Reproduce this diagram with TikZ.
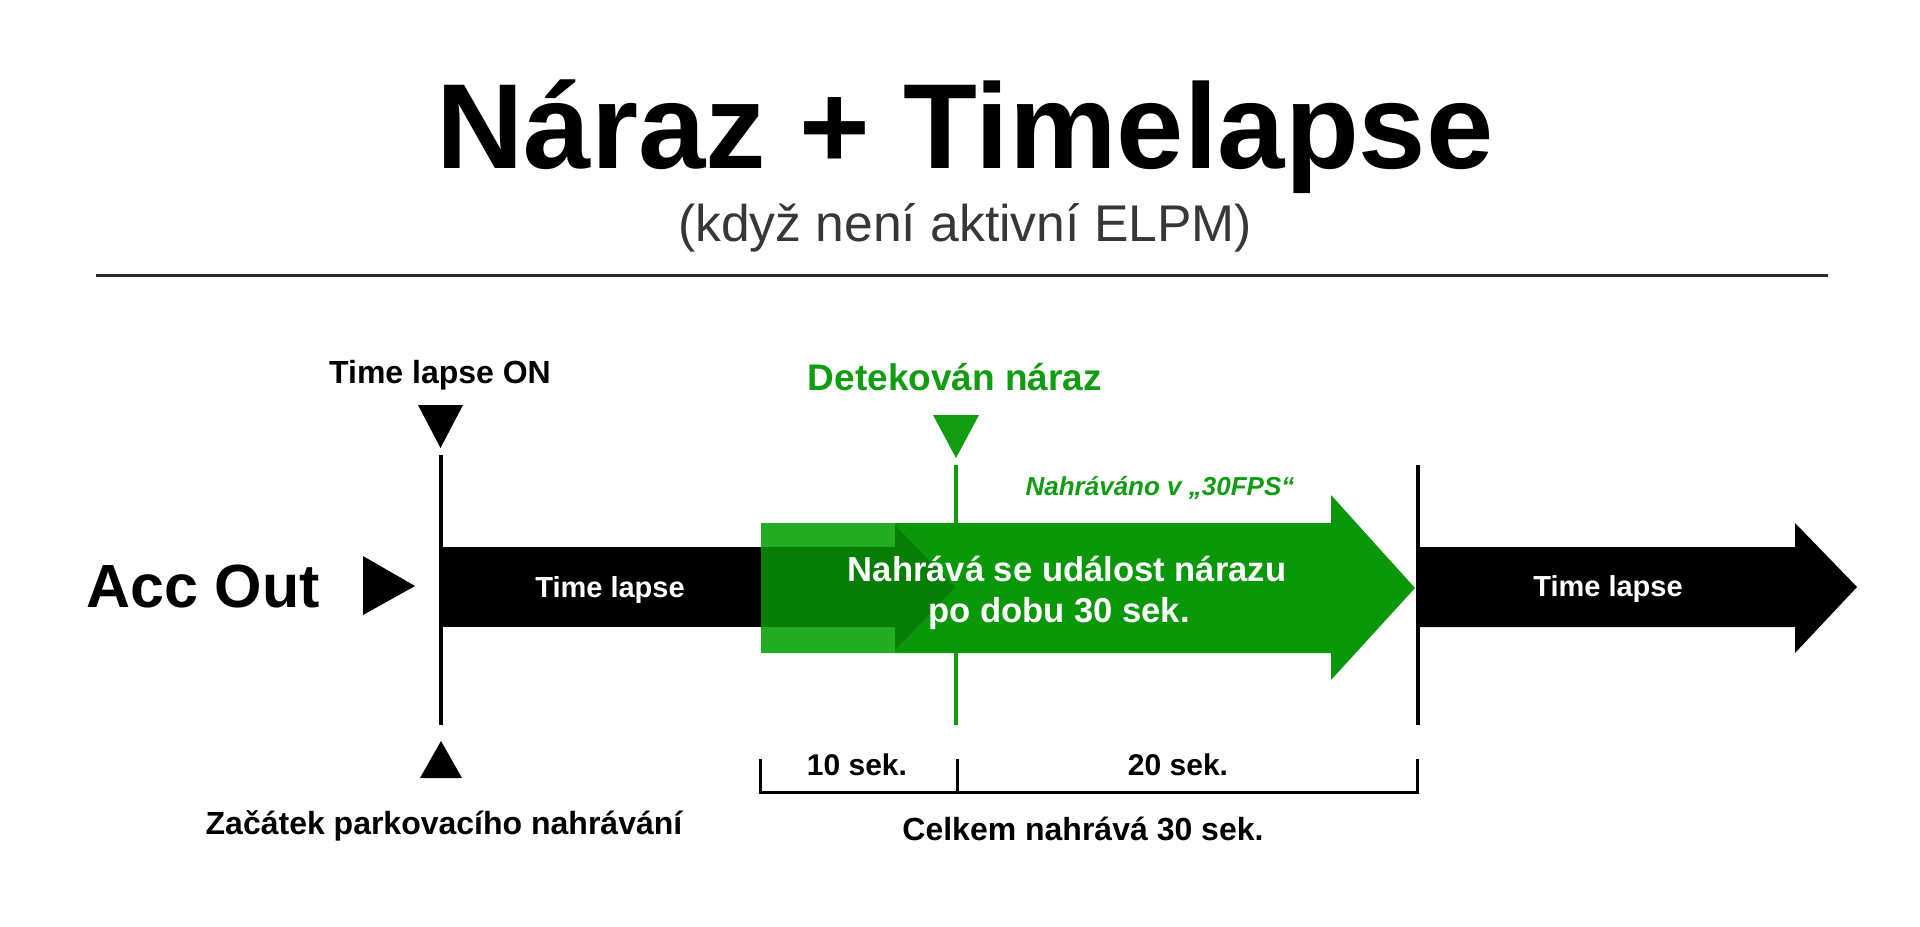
\documentclass[tikz,border=0pt]{standalone}
\usepackage{fontspec}
\setmainfont{Liberation Sans}
\definecolor{mgreen}{RGB}{10,152,10}
\definecolor{lgreen}{RGB}{34,172,34}
\definecolor{dgreen}{RGB}{8,126,8}
\definecolor{tgreen}{RGB}{18,156,18}
\definecolor{subgray}{RGB}{55,55,55}
\definecolor{rulegray}{RGB}{40,40,40}
\tikzset{
  txt/.style={inner sep=0pt, anchor=base, font=\bfseries},
  fs/.style={font=\bfseries\fontsize{#1}{#1}\selectfont},
  vline/.style={line width=2pt, black},
  gline/.style={line width=1.6pt, tgreen},
  brack/.style={line width=1.5pt, black, line join=miter},
}
\begin{document}
\begin{tikzpicture}[x=0.5pt,y=-0.5pt]
\useasboundingbox[fill=white] (0,0) rectangle (1920,926);

% title
\node[txt, fs=60.5] (title) at (965,168) {Náraz + Timelapse};
\node[txt, text=subgray, font=\fontsize{25.8}{30}\selectfont] (sub) at (965,241) {(když není aktivní ELPM)};
\coordinate (rl) at (96,275);
\coordinate (rr) at (1828,275);
\draw[line width=1.5pt, rulegray] (rl) -- (rr);

% vertical lines
\coordinate (l1t) at (441,455); \coordinate (l1b) at (441,725);
\coordinate (l2t) at (956,465); \coordinate (l2b) at (956,725);
\coordinate (l3t) at (1418,465); \coordinate (l3b) at (1418,725);
\draw[vline] (l1t) -- (l1b);
\draw[vline] (l3t) -- (l3b);
\draw[gline] (l2t) -- (l2b);

% markers
\fill[black] (418,405) -- (463,405) -- (440.5,448) -- cycle;
\fill[black] (420,778) -- (462,778) -- (441,741) -- cycle;
\fill[tgreen] (933,415) -- (979,415) -- (956,458) -- cycle;
\fill[black] (363,556) -- (363,615) -- (415,586) -- cycle;

% labels
\node[txt, fs=16] (tlon) at (440,383) {Time lapse ON};
\node[txt, fs=16] (zac) at (444,834) {Začátek parkovacího nahrávání};
\node[txt, fs=18.5, text=tgreen] (det) at (955,390) {Detekován náraz};
\node[txt, text=tgreen, font=\bfseries\itshape\fontsize{13}{13}\selectfont] (fps) at (1160,495) {Nahráváno v „30FPS“};
\node[txt, fs=30.5] (acc) at (203,607) {Acc Out};

% black bars
\fill[black] (443,547) rectangle (762,627);
\fill[black] (1420,547) -- (1795,547) -- (1795,523) -- (1857,587) -- (1795,653) -- (1795,627) -- (1420,627) -- cycle;

% green arrow
\fill[mgreen] (761,523) -- (1331,523) -- (1331,495) -- (1415,588) -- (1331,680) -- (1331,653) -- (761,653) -- cycle;
\fill[lgreen] (761,523) rectangle (895,653);
\fill[dgreen] (761,547) -- (895,547) -- (895,525) -- (955,587) -- (895,650) -- (895,627) -- (761,627) -- cycle;

% bar texts
\node[txt, fs=14.5, text=white] (tl1) at (610,597) {Time lapse};
\node[txt, fs=14.5, text=white] (tl2) at (1608,596) {Time lapse};
\node[txt, fs=17.3, text=white] (ev1) at (1067,581) {Nahrává se událost nárazu};
\node[txt, fs=17.3, text=white] (ev2) at (1059,622) {po dobu 30 sek.};

% bracket
\coordinate (b1t) at (760,759); \coordinate (b1b) at (760,792);
\coordinate (b2t) at (957,759); \coordinate (b2b) at (957,792);
\coordinate (b3t) at (1417,759); \coordinate (b3b) at (1417,792);
\draw[brack] (b1t) -- (b1b) -- (b3b) -- (b3t);
\draw[brack] (b2t) -- (b2b);
\node[txt, fs=15] (s10) at (857,775) {10 sek.};
\node[txt, fs=15] (s20) at (1178,775) {20 sek.};
\node[txt, fs=16] (tot) at (1083,840) {Celkem nahrává 30 sek.};
\end{tikzpicture}
\end{document}
